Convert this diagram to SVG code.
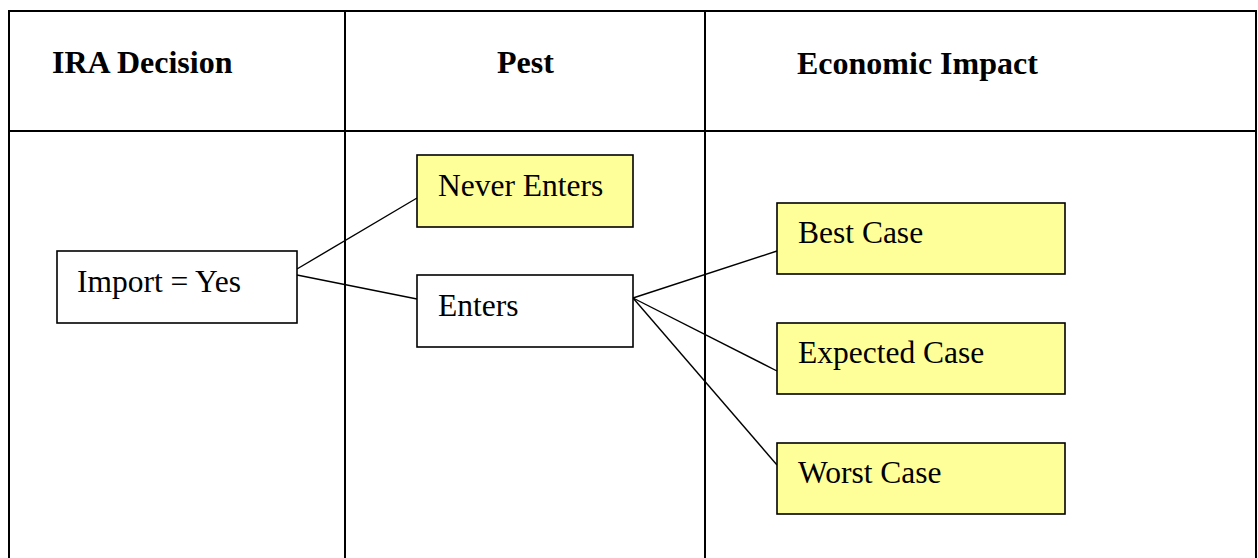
<svg xmlns="http://www.w3.org/2000/svg" width="1258" height="558" viewBox="0 0 1258 558">
<style>
.grid{stroke:#000;stroke-width:2;fill:none}
.hdr{font-family:"Liberation Serif","Times New Roman",serif;font-weight:bold;font-size:32px;fill:#000}
.lbl{font-family:"Liberation Serif","Times New Roman",serif;font-size:31.5px;fill:#000}
.box{stroke:#000;stroke-width:1.6;fill:#fff}
.ybox{stroke:#000;stroke-width:1.6;fill:#FFFF99}
.conn{stroke:#000;stroke-width:1.4;fill:none}
</style>
<rect width="1258" height="558" fill="#fff"/>
<g id="table">
<path class="grid" d="M9,558 V11 H1256 V558 M9,131 H1256 M345,11 V558 M705,11 V558"/>
<text class="hdr" x="52" y="73">IRA Decision</text>
<text class="hdr" x="497" y="73">Pest</text>
<text class="hdr" x="797" y="74">Economic Impact</text>
</g>
<g id="connectors">
<line class="conn" x1="297" y1="269" x2="417" y2="198"/>
<line class="conn" x1="297" y1="275" x2="417" y2="299"/>
<line class="conn" x1="633" y1="298" x2="777" y2="251"/>
<line class="conn" x1="633" y1="298" x2="777" y2="371"/>
<line class="conn" x1="633" y1="298" x2="777" y2="465"/>
</g>
<g id="import">
<rect class="box" x="57" y="251" width="240" height="72"/>
<text class="lbl" x="77" y="292">Import = Yes</text>
</g>
<g id="never-enters">
<rect class="ybox" x="417" y="155" width="216" height="72"/>
<text class="lbl" x="438" y="196">Never Enters</text>
</g>
<g id="enters">
<rect class="box" x="417" y="275" width="216" height="72"/>
<text class="lbl" x="438" y="316">Enters</text>
</g>
<g id="best-case">
<rect class="ybox" x="777" y="203" width="288" height="71"/>
<text class="lbl" x="798" y="243">Best Case</text>
</g>
<g id="expected-case">
<rect class="ybox" x="777" y="323" width="288" height="71"/>
<text class="lbl" x="798" y="363">Expected Case</text>
</g>
<g id="worst-case">
<rect class="ybox" x="777" y="443" width="288" height="71"/>
<text class="lbl" x="798" y="483">Worst Case</text>
</g>
</svg>
